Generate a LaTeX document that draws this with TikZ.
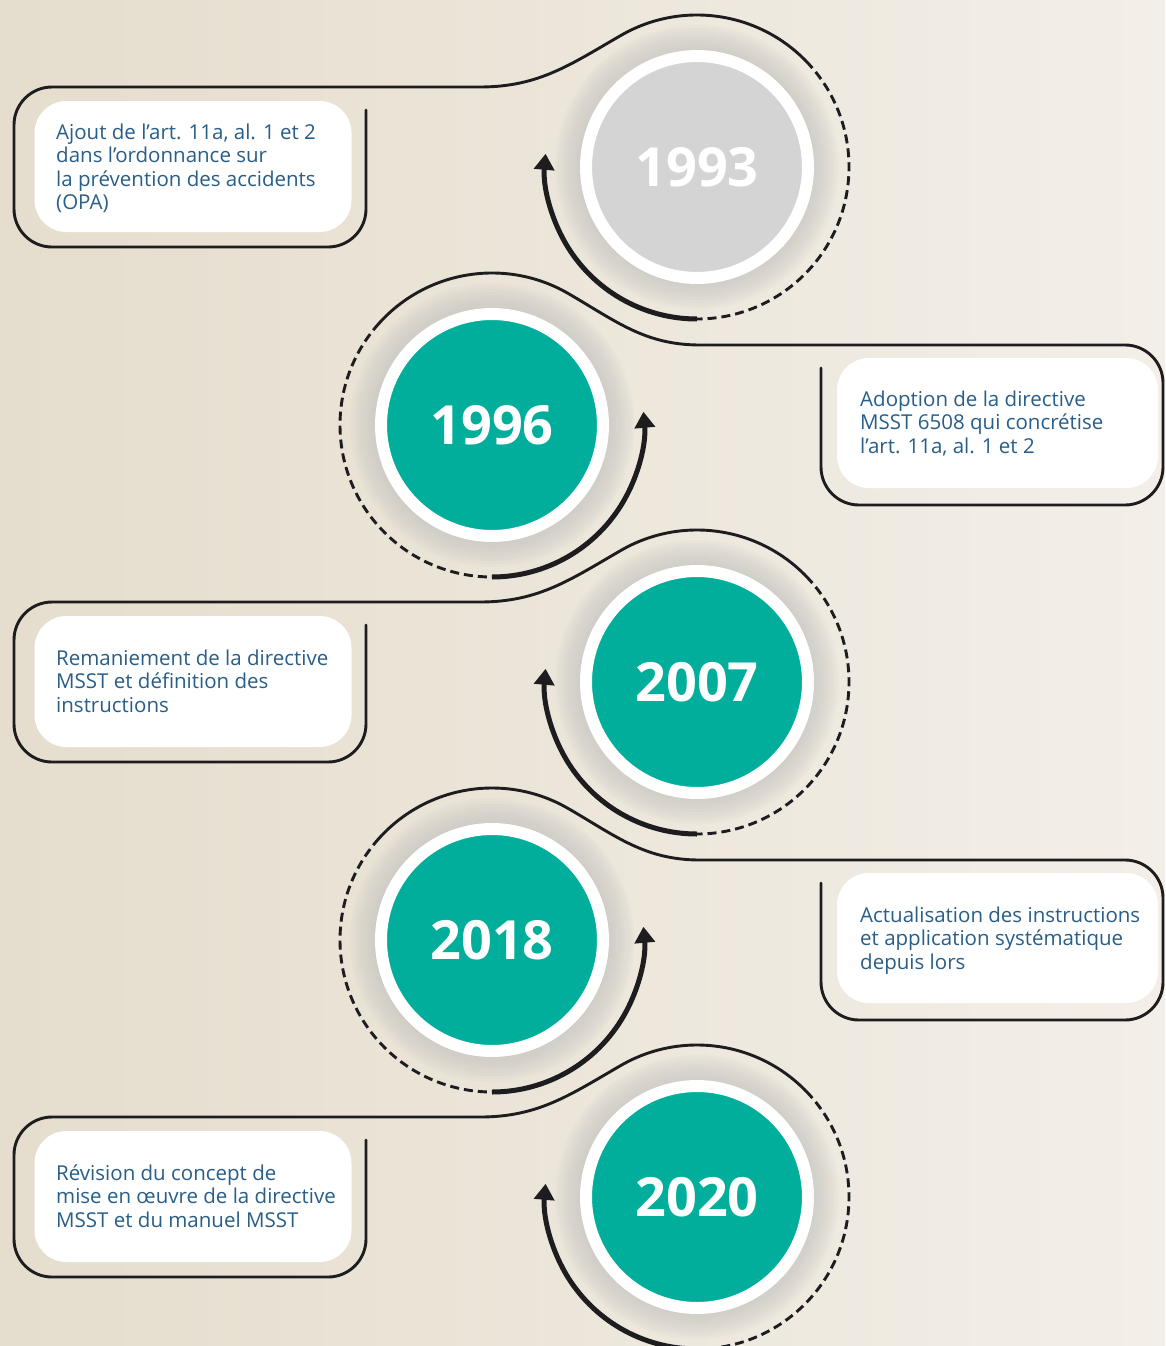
\documentclass[tikz,border=0pt]{standalone}
\usepackage{fontspec}
\setmainfont{Open Sans}
\usetikzlibrary{calc,arrows.meta}
\definecolor{tlteal}{RGB}{0,174,155}
\definecolor{tlgrey}{RGB}{211,212,211}
\definecolor{txtblue}{RGB}{40,94,136}
\definecolor{lineblack}{RGB}{29,29,31}
\definecolor{bgL}{RGB}{229,221,205}
\definecolor{bgR}{RGB}{243,239,232}
\definecolor{halogrey}{RGB}{196,195,193}
\newcommand\tltext[1]{\parbox[t]{340pt}{\raggedright #1}}
\tikzset{
  conn/.style={line width=2.9pt, draw=lineblack, line cap=round},
  dashring/.style={line width=2.9pt, draw=lineblack, dash pattern=on 9pt off 5pt},
  thickarrow/.style={line width=5pt, draw=lineblack, -{Triangle[length=16pt,width=20pt]}},
  wbox/.style={fill=white, rounded corners=32pt, inner sep=0pt, draw=none},
  desc/.style={anchor=base west, inner sep=0pt, text=txtblue, font=\fontsize{20.5}{23.5}\selectfont},
  yearc/.style={circle, minimum size=222pt, inner sep=0pt, draw=white, line width=12pt, text=white, font=\fontsize{54}{54}\selectfont\bfseries},
}
% circle on the right, text box on the left
\newcommand\tlRight[6]{%
  \coordinate (c#1) at (697,-#2);
  \draw[conn] (366,{-#2+57}) -- (366,{-#2-42}) arc[start angle=0,end angle=-90,radius=38]
    -- (52,{-#2-80}) arc[start angle=270,end angle=180,radius=38]
    -- (14,{-#2+42}) arc[start angle=180,end angle=90,radius=38]
    -- (480,{-#2+80}) to[out=0,in=210] ($(c#1)+(120:152)$)
    arc[start angle=120,end angle=44,radius=152];
  \draw[dashring] ($(c#1)+(44:152)$) arc[start angle=44,end angle=-90,radius=152];
  \draw[thickarrow] ($(c#1)+(-90:152)$) arc[start angle=-90,end angle=-185,radius=152];
  \node[wbox, minimum width=317pt, minimum height=131pt] (b#1) at (193,{-#2+0.5}) {};
  \node[desc] (t#1) at (56,{-#2+#5}) {\tltext{#6}};
  \node[yearc, fill=#4] (y#1) at (c#1) {#3};
}
% circle on the left, text box on the right
\newcommand\tlLeft[6]{%
  \coordinate (c#1) at (492,-#2);
  \draw[conn] (821,{-#2+57}) -- (821,{-#2-42}) arc[start angle=180,end angle=270,radius=38]
    -- (1125,{-#2-80}) arc[start angle=-90,end angle=0,radius=38]
    -- (1163,{-#2+42}) arc[start angle=0,end angle=90,radius=38]
    -- (700,{-#2+80}) to[out=180,in=-30] ($(c#1)+(60:152)$)
    arc[start angle=60,end angle=138,radius=152];
  \draw[dashring] ($(c#1)+(138:152)$) arc[start angle=138,end angle=270,radius=152];
  \draw[thickarrow] ($(c#1)+(270:152)$) arc[start angle=270,end angle=365,radius=152];
  \node[wbox, minimum width=321pt, minimum height=130pt] (b#1) at (997.5,{-#2+2}) {};
  \node[desc] (t#1) at (860,{-#2+#5}) {\tltext{#6}};
  \node[yearc, fill=#4] (y#1) at (c#1) {#3};
}
\begin{document}
\begin{tikzpicture}[x=1pt,y=1pt]
  \useasboundingbox (0,0) rectangle (1165,-1346);
  \clip (0,0) rectangle (1165,-1346);
  \shade[left color=bgL, right color=bgR] (0,0) rectangle (1165,-1346);
  % soft grey halos around the year discs
  \foreach \cx/\cy in {697/167, 492/425, 697/682, 492/940, 697/1197}{
    \foreach \r in {142,139,...,118}{
      \fill[halogrey, opacity=0.1] (\cx,-\cy) circle[radius=\r];
    }
  }
  \tlRight{1}{167}{1993}{tlgrey}{28}{Ajout de l’art. 11a, al. 1 et 2\\dans l’ordonnance sur\\la prévention des accidents\\(OPA)}
  \tlLeft{2}{425}{1996}{tlteal}{19}{Adoption de la directive\\MSST 6508 qui concrétise\\l’art. 11a, al. 1 et 2}
  \tlRight{3}{682}{2007}{tlteal}{17}{Remaniement de la directive\\MSST et définition des\\instructions}
  \tlLeft{4}{940}{2018}{tlteal}{18}{Actualisation des instructions\\et application systématique\\depuis lors}
  \tlRight{5}{1197}{2020}{tlteal}{17}{Révision du concept de\\mise en œuvre de la directive\\MSST et du manuel MSST}
\end{tikzpicture}
\end{document}
